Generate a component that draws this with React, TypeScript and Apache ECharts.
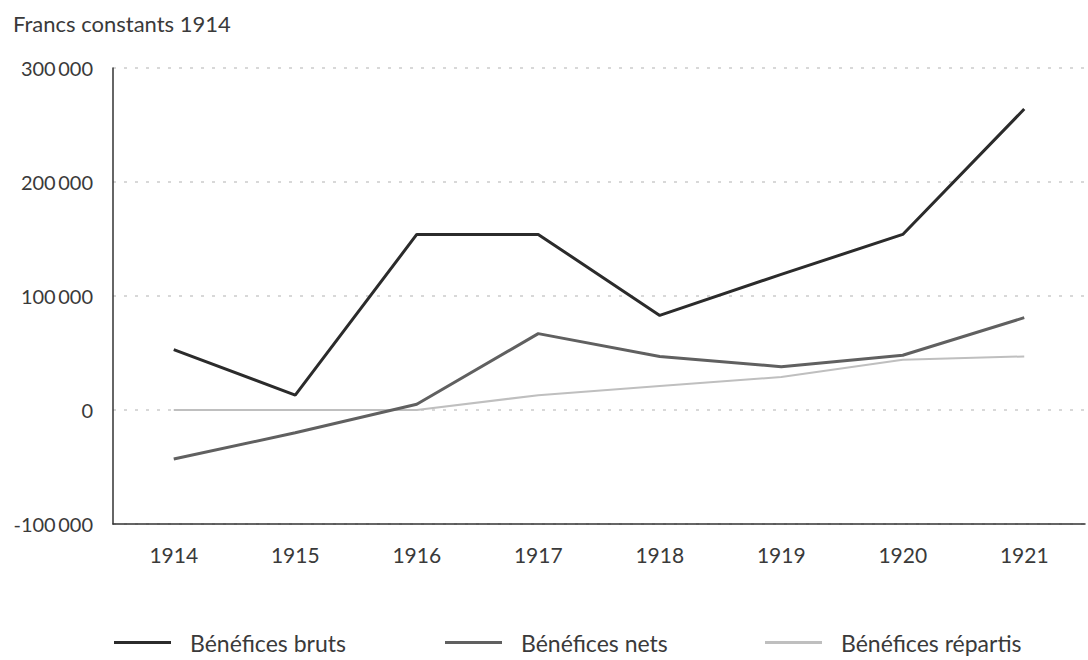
import React, { useEffect, useRef } from "react";
import * as echarts from "echarts";

const years = ["1914", "1915", "1916", "1917", "1918", "1919", "1920", "1921"];
const beneficesBruts = [53000, 13000, 154000, 154000, 83000, 119000, 154000, 264000];
const beneficesNets = [-43000, -20000, 5000, 67000, 47000, 38000, 48000, 81000];
const beneficesRepartis = [0, 0, 0, 13000, 21000, 29000, 44000, 47000];
const seriesNames = ["Bénéfices bruts", "Bénéfices nets", "Bénéfices répartis"];
const yTitle = "Francs constants 1914";

const fmt = (v: number) => {
  const s = Math.abs(v).toString().replace(/\B(?=(\d{3})+(?!\d))/g, "\u2009");
  return (v < 0 ? "-" : "") + s;
};

export default function App() {
  const ref = useRef<HTMLDivElement>(null);
  useEffect(() => {
    if (!ref.current) return;
    const chart = echarts.init(ref.current, undefined, { renderer: "svg" });
    const textColor = "#3a3a3a";
    const font = "Lato, 'Open Sans', sans-serif";
    const legendBase = {
      top: 631,
      padding: 0,
      itemWidth: 57,
      itemHeight: 3,
      icon: "rect",
      textStyle: { fontSize: 23, color: textColor, fontFamily: font, padding: [0, 0, 0, 14] },
    };
    chart.setOption({
      animation: false,
      backgroundColor: "#ffffff",
      textStyle: { fontFamily: font, color: textColor },
      graphic: [
        {
          type: "text",
          left: 13,
          top: 12,
          style: { text: yTitle, font: `22px ${font}`, fill: textColor },
        },
      ],
      grid: { left: 113, right: 3, top: 68, bottom: 136, containLabel: false },
      legend: [
        { ...legendBase, left: 114, data: [seriesNames[0]] },
        { ...legendBase, left: 445, data: [seriesNames[1]] },
        { ...legendBase, left: 765, data: [seriesNames[2]] },
      ],
      xAxis: {
        type: "category",
        data: years,
        boundaryGap: true,
        axisLine: { onZero: false, lineStyle: { color: "#333", width: 1.5 } },
        axisTick: { alignWithLabel: true, length: 12, lineStyle: { color: "#333", width: 1.5 } },
        axisLabel: { fontSize: 21, color: textColor, margin: 20, fontFamily: font },
      },
      yAxis: {
        type: "value",
        min: -100000,
        max: 300000,
        interval: 100000,
        axisLine: { show: true, lineStyle: { color: "#333", width: 1.5 } },
        axisTick: { show: false },
        axisLabel: { fontSize: 20, color: textColor, margin: 20, fontFamily: font, formatter: fmt },
        splitLine: {
          show: true,
          lineStyle: { color: "#cccccc", type: [3, 8], width: 1.5 },
        },
      },
      series: [
        {
          name: seriesNames[0],
          type: "line",
          data: beneficesBruts,
          symbol: "none",
          color: "#2b2b2b",
          lineStyle: { width: 3, color: "#2b2b2b" },
          z: 4,
        },
        {
          name: seriesNames[1],
          type: "line",
          data: beneficesNets,
          symbol: "none",
          color: "#606060",
          lineStyle: { width: 3, color: "#606060" },
          z: 3,
        },
        {
          name: seriesNames[2],
          type: "line",
          data: beneficesRepartis,
          symbol: "none",
          color: "#bfbfbf",
          lineStyle: { width: 2, color: "#bfbfbf" },
          z: 2,
        },
      ],
    });
    return () => chart.dispose();
  }, []);
  return (
    <div
      ref={ref}
      style={{ position: "fixed", left: 0, top: 0, width: 1088, height: 660, background: "#fff" }}
    />
  );
}
